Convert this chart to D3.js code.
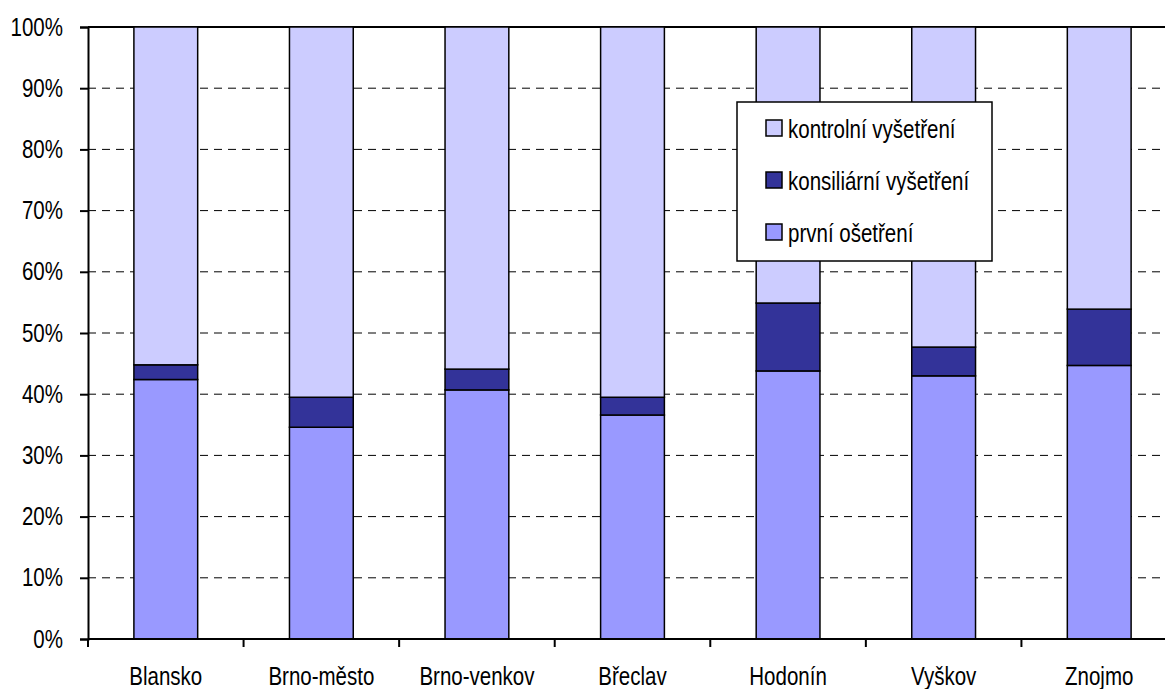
<!DOCTYPE html>
<html>
<head>
<meta charset="utf-8">
<script src="https://cdn.jsdelivr.net/npm/d3@7"></script>
<style>
  body { margin: 0; background: #fff; }
  #chart { width: 1165px; height: 689px; overflow: hidden; }
  text { font-family: "Liberation Sans", Arial, sans-serif; fill: #000; }
</style>
</head>
<body>
<div id="chart"></div>
<script>
// districts
const districts = ["Blansko", "Brno-město", "Brno-venkov", "Břeclav", "Hodonín", "Vyškov", "Znojmo"];
// shares in %
const prvni = [42.4, 34.6, 40.7, 36.6, 43.8, 43.0, 44.7];
const konsil = [2.4, 4.9, 3.4, 2.9, 11.1, 4.7, 9.2];
const kontrol = prvni.map((p, i) => 100 - p - konsil[i]);

const seriesNames = ["první ošetření", "konsiliární vyšetření", "kontrolní vyšetření"];
const seriesColors = ["#9999FF", "#333399", "#CCCCFF"];
const yTicks = [0, 10, 20, 30, 40, 50, 60, 70, 80, 90, 100];

const width = 1165, height = 689;
const svg = d3.select("#chart").append("svg")
  .attr("width", width)
  .attr("height", height);

const x = d3.scaleBand()
  .domain(districts)
  .range([88, 1177])
  .paddingInner(0.59)
  .paddingOuter(0.295);

const y = d3.scaleLinear().domain([0, 100]).range([639, 27]);

// gridlines
svg.append("g")
  .selectAll("line")
  .data(yTicks.filter(t => t > 0 && t < 100))
  .enter().append("line")
  .attr("x1", 88).attr("x2", 1177)
  .attr("y1", d => y(d)).attr("y2", d => y(d))
  .attr("stroke", "#000")
  .attr("stroke-width", 1)
  .attr("stroke-dasharray", "8,6");

// top line
svg.append("line")
  .attr("x1", 88).attr("x2", 1177)
  .attr("y1", y(100)).attr("y2", y(100))
  .attr("stroke", "#000").attr("stroke-width", 2);

const rows = districts.map((d, i) => ({ d, v: [prvni[i], konsil[i], kontrol[i]] }));
const stack = [];
rows.forEach(r => {
  let acc = 0;
  r.v.forEach((v, k) => {
    stack.push({ d: r.d, k, y0: acc, y1: acc + v });
    acc += v;
  });
});

svg.append("g")
  .selectAll("rect")
  .data(stack)
  .enter().append("rect")
  .attr("x", s => x(s.d))
  .attr("width", x.bandwidth())
  .attr("y", s => y(s.y1))
  .attr("height", s => y(s.y0) - y(s.y1))
  .attr("fill", s => seriesColors[s.k])
  .attr("stroke", "#000")
  .attr("stroke-width", 1.5);

// y axis
const yAxis = svg.append("g").attr("transform", "translate(88,0)")
  .call(d3.axisLeft(y).tickValues(yTicks).tickFormat(d => d + "%").tickSize(8).tickPadding(17));
yAxis.attr("font-family", null).attr("font-size", null);
yAxis.select(".domain").attr("stroke-width", 2);
yAxis.selectAll(".tick line").attr("stroke-width", 2);
yAxis.selectAll("text").attr("font-size", 25).attr("fill", "#000");

// x axis
const step = x.step();
const bounds = d3.range(districts.length + 1).map(i => 88 + i * step);
svg.append("line")
  .attr("x1", 88).attr("x2", 1177)
  .attr("y1", y(0)).attr("y2", y(0))
  .attr("stroke", "#000").attr("stroke-width", 2);
svg.append("g").selectAll("line")
  .data(bounds)
  .enter().append("line")
  .attr("x1", d => d).attr("x2", d => d)
  .attr("y1", y(0)).attr("y2", y(0) + 8)
  .attr("stroke", "#000").attr("stroke-width", 2);
svg.append("g").selectAll("text")
  .data(districts)
  .enter().append("text")
  .attr("x", d => x(d) + x.bandwidth() / 2)
  .attr("y", 685)
  .attr("text-anchor", "middle")
  .attr("font-size", 25)
  .text(d => d);

// legend
const legend = svg.append("g").attr("transform", "translate(737,102)");
legend.append("rect")
  .attr("width", 255).attr("height", 159)
  .attr("fill", "#fff").attr("stroke", "#000").attr("stroke-width", 1.5);
const items = [2, 1, 0];
items.forEach((k, i) => {
  const cy = 26 + i * 52;
  legend.append("rect")
    .attr("x", 29).attr("y", cy - 8)
    .attr("width", 16).attr("height", 16)
    .attr("fill", seriesColors[k]).attr("stroke", "#000").attr("stroke-width", 1.5);
  legend.append("text")
    .attr("x", 51).attr("y", cy + 10)
    .attr("font-size", 25)
    .text(seriesNames[k]);
});

// narrow the type like the original condensed font
svg.selectAll("text").each(function () {
  const w = this.getComputedTextLength();
  d3.select(this).attr("textLength", w * 0.82).attr("lengthAdjust", "spacingAndGlyphs");
});
</script>
</body>
</html>
